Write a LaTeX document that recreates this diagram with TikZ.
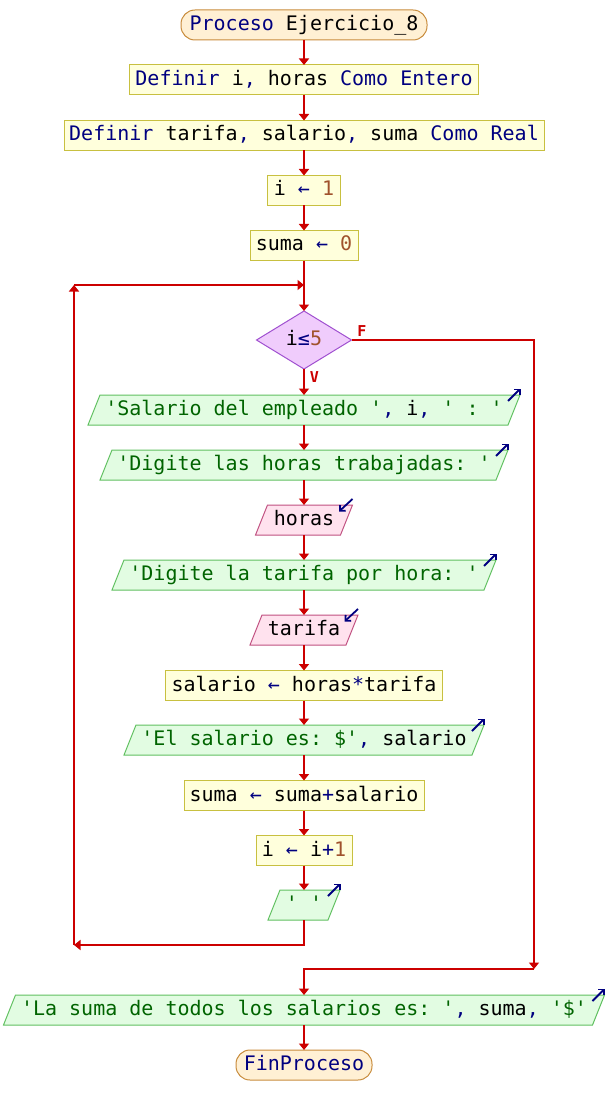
\documentclass[tikz,border=0pt]{standalone}
\usepackage{fontspec}
\setmonofont{DejaVu Sans Mono}
\usetikzlibrary{arrows.meta,calc,backgrounds}

\definecolor{flowred}{HTML}{CC0000}
\definecolor{kwblue}{HTML}{000080}
\definecolor{strgreen}{HTML}{006400}
\definecolor{numbrown}{HTML}{A0522D}
\definecolor{termfill}{HTML}{FFF0D4}
\definecolor{termdraw}{HTML}{C88C3C}
\definecolor{procfill}{HTML}{FFFFDC}
\definecolor{procdraw}{HTML}{C8C040}
\definecolor{decfill}{HTML}{F0CCFC}
\definecolor{decdraw}{HTML}{A050D0}
\definecolor{outfill}{HTML}{E2FCE2}
\definecolor{outdraw}{HTML}{60C060}
\definecolor{infill}{HTML}{FFE2EE}
\definecolor{indraw}{HTML}{C05080}

% syntax colouring of the pseudocode
\newcommand\kwd[1]{\textcolor{kwblue}{#1}}
\newcommand\strg[1]{\textcolor{strgreen}{#1}}
\newcommand\numb[1]{\textcolor{numbrown}{#1}}

% slanted box behind an input/output node
\newcommand\iobox[2]{\filldraw[#2, line width=1pt]
  ($(#1.north west)+(6,0)$) -- ($(#1.north east)+(6,0)$) --
  ($(#1.south east)+(-6,0)$) -- ($(#1.south west)+(-6,0)$) -- cycle;}
% small arrows on the corner of output / input boxes
\newcommand\outmark[1]{\draw[markarrow] ($(#1.north east)+(-6,6)$) -- ($(#1.north east)+(6.5,-6.5)$);}
\newcommand\inmark[1]{\draw[markarrow] ($(#1.north east)+(6,-6)$) -- ($(#1.north east)+(-7.5,6.5)$);}

\tikzset{
  base/.style={font=\ttfamily\fontsize{20}{24}\selectfont\frenchspacing,
    text height=15pt, text depth=4pt, inner xsep=3pt, inner ysep=0pt,
    outer sep=0pt, minimum height=30pt, line width=1pt},
  terminal/.style={base, rounded corners=14pt, draw=termdraw, fill=termfill},
  proc/.style={base, draw=procdraw, fill=procfill},
  flow/.style={draw=flowred, line width=2.2pt, -{Triangle[length=6.5pt,width=10pt]}},
  markarrow/.style={draw=kwblue, line width=1.8pt, -{Straight Barb[length=4pt,width=8pt]}},
  lbl/.style={font=\ttfamily\bfseries\fontsize{15}{17}\selectfont, text=flowred, inner sep=0pt},
}

\begin{document}
\begin{tikzpicture}[x=1pt,y=-1pt]
\useasboundingbox (0,0) rectangle (608,1115);

\node[terminal, minimum width=246pt] (start) at (304,25) {\kwd{Proceso} Ejercicio\_8};
\node[proc, minimum width=349pt] (d1) at (304,80) {\kwd{Definir} i\kwd{,} horas \kwd{Como Entero}};
\node[proc, minimum width=480pt] (d2) at (304,135.5) {\kwd{Definir} tarifa\kwd{,} salario\kwd{,} suma \kwd{Como Real}};
\node[proc, minimum width=73pt] (a1) at (304,190.5) {i \kwd{←} \numb{1}};
\node[proc, minimum width=108pt] (a2) at (304,245.5) {suma \kwd{←} \numb{0}};
\node[base, minimum width=95pt, minimum height=58pt] (cond) at (304,340) {i\kwd{≤}\numb{5}};
\node[base, minimum width=420pt] (w1) at (304,410) {\strg{'Salario del empleado '}\kwd{,} i\kwd{,} \strg{' : '}};
\node[base, minimum width=396pt] (w2) at (304,465) {\strg{'Digite las horas trabajadas: '}};
\node[base, minimum width=85pt] (r1) at (304,520) {horas};
\node[base, minimum width=372pt] (w3) at (304,575) {\strg{'Digite la tarifa por hora: '}};
\node[base, minimum width=96pt] (r2) at (304,630) {tarifa};
\node[proc, minimum width=277pt] (a3) at (304,685.5) {salario \kwd{←} horas\kwd{*}tarifa};
\node[base, minimum width=348pt] (w4) at (304,740) {\strg{'El salario es: \$'}\kwd{,} salario};
\node[proc, minimum width=240pt] (a4) at (304,795.5) {suma \kwd{←} suma\kwd{+}salario};
\node[proc, minimum width=96pt] (a5) at (304,850.5) {i \kwd{←} i\kwd{+}\numb{1}};
\node[base, minimum width=60pt] (w5) at (304,905) {\strg{' '}};
\node[base, minimum width=589pt] (w6) at (304,1010) {\strg{'La suma de todos los salarios es: '}\kwd{,} suma\kwd{,} \strg{'\$'}};
\node[terminal, minimum width=136pt] (stop) at (304,1065) {\kwd{FinProceso}};

\node[lbl] (flab) at (362,331) {F};
\node[lbl] (vlab) at (314.5,377.5) {V};

\begin{scope}[on background layer]
  \filldraw[fill=decfill, draw=decdraw, line width=1pt]
    (cond.north) -- (cond.east) -- (cond.south) -- (cond.west) -- cycle;
  \iobox{w1}{fill=outfill, draw=outdraw}
  \iobox{w2}{fill=outfill, draw=outdraw}
  \iobox{r1}{fill=infill, draw=indraw}
  \iobox{w3}{fill=outfill, draw=outdraw}
  \iobox{r2}{fill=infill, draw=indraw}
  \iobox{w4}{fill=outfill, draw=outdraw}
  \iobox{w5}{fill=outfill, draw=outdraw}
  \iobox{w6}{fill=outfill, draw=outdraw}
\end{scope}

\outmark{w1} \outmark{w2} \inmark{r1} \outmark{w3} \inmark{r2}
\outmark{w4} \outmark{w5} \outmark{w6}

% loop and exit routing points
\coordinate (backdown) at (304,945);
\coordinate (backleft) at (74,945);
\coordinate (backtop) at (74,285);
\coordinate (join) at (304,285);
\coordinate (fright) at (534,340);
\coordinate (fdown) at (534,969);
\coordinate (fjoin) at (304,969);

\draw[flow] (start.south) -- (d1.north);
\draw[flow] (d1.south) -- (d2.north);
\draw[flow] (d2.south) -- (a1.north);
\draw[flow] (a1.south) -- (a2.north);
\draw[flow] (a2.south) -- (cond.north);
\draw[flow] (cond.south) -- (w1.north);
\draw[flow] (w1.south) -- (w2.north);
\draw[flow] (w2.south) -- (r1.north);
\draw[flow] (r1.south) -- (w3.north);
\draw[flow] (w3.south) -- (r2.north);
\draw[flow] (r2.south) -- (a3.north);
\draw[flow] (a3.south) -- (w4.north);
\draw[flow] (w4.south) -- (a4.north);
\draw[flow] (a4.south) -- (a5.north);
\draw[flow] (a5.south) -- (w5.north);
\draw[flow] (w5.south) -- (backdown) -- (backleft);
\draw[flow] (backleft) -- (backtop);
\draw[flow] (backtop) -- (join);
\draw[flow] (cond.east) -- (fright) -- (fdown);
\draw[flow] (fdown) -- (fjoin) -- (w6.north);
\draw[flow] (w6.south) -- (stop.north);
\end{tikzpicture}
\end{document}
